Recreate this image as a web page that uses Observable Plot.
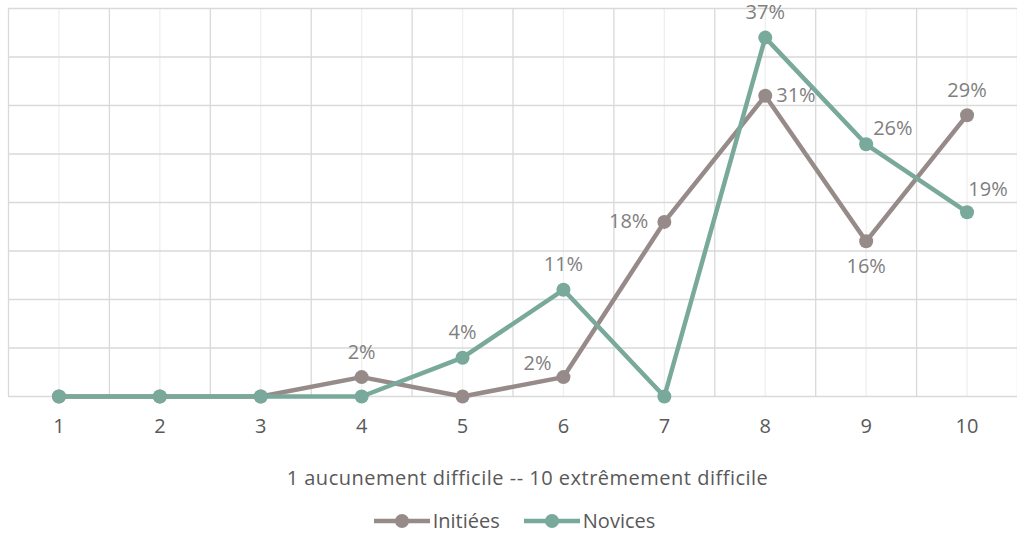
<!DOCTYPE html>
<html>
<head>
<meta charset="utf-8">
<script src="https://cdn.jsdelivr.net/npm/d3@7"></script>
<script src="https://cdn.jsdelivr.net/npm/@observablehq/plot@0.6"></script>
<style>
  html, body { margin: 0; padding: 0; background: #fff; }
  #wrap { position: relative; width: 1017px; height: 535px; font-family: "Open Sans", Lato, sans-serif; }
  #chart { position: absolute; left: 0; top: 0; }
  #xtitle { position: absolute; left: 19px; width: 1017px; top: 464px; text-align: center; font-size: 20px; line-height: 28px; letter-spacing: 0.5px; color: #595959; }
  #legend { position: absolute; left: 6px; width: 1017px; top: 507px; display: flex; justify-content: center; gap: 24px; font-size: 20px; line-height: 28px; color: #595959; }
  #legend .item { display: flex; align-items: center; }
  #legend svg { margin-right: 3px; }
</style>
</head>
<body>
<div id="wrap">
  <div id="chart"></div>
  <div id="xtitle">1 aucunement difficile -- 10 extrêmement difficile</div>
  <div id="legend"></div>
</div>
<script>
// Difficulty ratings, 1..10, share of respondents per group (%)
const categories = [1, 2, 3, 4, 5, 6, 7, 8, 9, 10];
const initiees = [0, 0, 0, 2, 0, 2, 18, 31, 16, 29];
const novices = [0, 0, 0, 0, 4, 11, 0, 37, 26, 19];
const seriesNames = ["Initiées", "Novices"];
const seriesColors = ["#978b8a", "#79a99b"];

// Where each data label sits relative to its point (zero values carry no label)
const labelPlacement = {
  "Initiées": {4: "top", 6: "upperLeft", 7: "left", 8: "right", 9: "bottom", 10: "top"},
  "Novices": {5: "top", 6: "top", 8: "top", 9: "upperRight", 10: "topRight"}
};
const placements = {
  top:        {dx: 0,   dy: -25, textAnchor: "middle"},
  topRight:   {dx: 21,  dy: -23, textAnchor: "middle"},
  upperRight: {dx: 7,   dy: -16, textAnchor: "start"},
  right:      {dx: 11,  dy: 0,   textAnchor: "start"},
  left:       {dx: -16, dy: 0,   textAnchor: "end"},
  upperLeft:  {dx: -12, dy: -14, textAnchor: "end"},
  bottom:     {dx: 0,   dy: 25,  textAnchor: "middle"}
};

const rows = [];
seriesNames.forEach((s, i) => {
  const vals = i === 0 ? initiees : novices;
  categories.forEach((c, j) => rows.push({series: s, cat: c, value: vals[j]}));
});

const labelMarks = Object.entries(placements).map(([kind, p]) =>
  Plot.text(rows.filter(d => d.value > 0 && labelPlacement[d.series][d.cat] === kind), {
    x: "cat", y: "value", text: d => d.value + "%",
    dx: p.dx, dy: p.dy, textAnchor: p.textAnchor,
    fill: "#7f7f7f", fontSize: 20
  })
);

const chart = Plot.plot({
  width: 1017,
  height: 440,
  marginLeft: 8,
  marginRight: 0,
  marginTop: 8,
  marginBottom: 44,
  style: {fontFamily: "'Open Sans', Lato, sans-serif", background: "white", overflow: "visible"},
  x: {domain: [0.5, 10.5], axis: null},
  y: {domain: [0, 40], axis: null},
  color: {domain: seriesNames, range: seriesColors},
  marks: [
    Plot.ruleX(categories, {stroke: "#efefef", strokeWidth: 1.3}),
    Plot.ruleX(d3.range(0.5, 11, 1), {stroke: "#d9d9d9", strokeWidth: 1.3}),
    Plot.ruleY(d3.range(0, 41, 5), {stroke: "#d9d9d9", strokeWidth: 1.3}),
    Plot.line(rows, {x: "cat", y: "value", z: "series", stroke: "series", strokeWidth: 4.5, strokeLinejoin: "round"}),
    Plot.dot(rows, {x: "cat", y: "value", fill: "series", r: 7}),
    ...labelMarks,
    Plot.axisX(categories, {tickSize: 0, tickPadding: 22, fontSize: 20, fill: "#595959", label: null, tickFormat: d => String(d)})
  ]
});
document.getElementById("chart").appendChild(chart);

// Legend: line-with-marker sample for each series
const legend = d3.select("#legend");
seriesNames.forEach((s, i) => {
  const item = legend.append("div").attr("class", "item");
  const svg = item.append("svg").attr("width", 56).attr("height", 16);
  svg.append("line").attr("x1", 0).attr("x2", 56).attr("y1", 8).attr("y2", 8)
    .attr("stroke", seriesColors[i]).attr("stroke-width", 4.5);
  svg.append("circle").attr("cx", 28).attr("cy", 8).attr("r", 7).attr("fill", seriesColors[i]);
  item.append("span").text(s);
});
</script>
</body>
</html>
